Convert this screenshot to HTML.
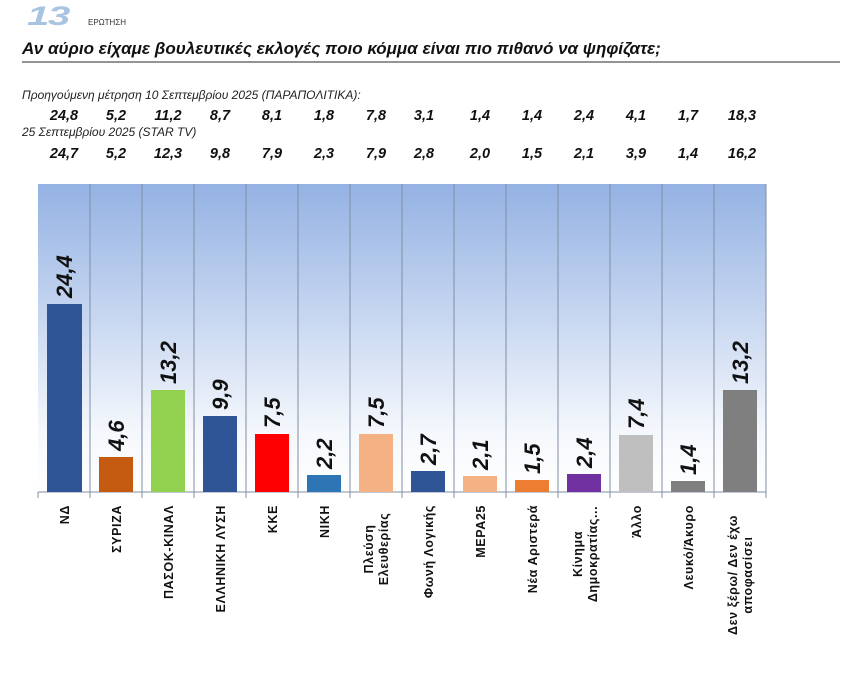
<!DOCTYPE html>
<html><head><meta charset="utf-8"><style>
body{margin:0;background:#fff;width:855px;height:697px;overflow:hidden}
svg{display:block}
text{font-family:"Liberation Sans","DejaVu Sans",sans-serif}
</style></head><body>
<svg width="855" height="697" viewBox="0 0 855 697">
<defs>
<linearGradient id="bg" x1="0" y1="0" x2="0" y2="1">
<stop offset="0" stop-color="#94b2e3"/>
<stop offset="0.45" stop-color="#c9d8f1"/>
<stop offset="0.8" stop-color="#f4f7fc"/>
<stop offset="1" stop-color="#ffffff"/>
</linearGradient>
</defs>
<text transform="translate(27,25) scale(1.55,1.05)" font-size="26" font-weight="bold" font-style="italic" fill="#a9c4e0" font-family="Liberation Serif,serif" letter-spacing="-1">13</text>
<text x="88" y="25" font-size="8" fill="#333">ΕΡΩΤΗΣΗ</text>
<text x="22" y="54" font-size="17" font-style="italic" font-weight="bold" fill="#111">Αν αύριο είχαμε βουλευτικές εκλογές ποιο κόμμα είναι πιο πιθανό να ψηφίζατε;</text>
<line x1="22" y1="62" x2="840" y2="62" stroke="#555" stroke-width="1.2"/>
<text x="22" y="99" font-size="12" font-style="italic" fill="#222">Προηγούμενη μέτρηση 10 Σεπτεμβρίου 2025 (ΠΑΡΑΠΟΛΙΤΙΚΑ):</text>
<text x="22" y="136" font-size="12" font-style="italic" fill="#222">25 Σεπτεμβρίου 2025 (STAR TV)</text>
<g font-size="14.5" font-weight="bold" font-style="italic" fill="#111" text-anchor="middle">
<text x="64" y="120">24,8</text><text x="116" y="120">5,2</text><text x="168" y="120">11,2</text><text x="220" y="120">8,7</text><text x="272" y="120">8,1</text><text x="324" y="120">1,8</text><text x="376" y="120">7,8</text><text x="424" y="120">3,1</text><text x="480" y="120">1,4</text><text x="532" y="120">1,4</text><text x="584" y="120">2,4</text><text x="636" y="120">4,1</text><text x="688" y="120">1,7</text><text x="742" y="120">18,3</text>
<text x="64" y="158">24,7</text><text x="116" y="158">5,2</text><text x="168" y="158">12,3</text><text x="220" y="158">9,8</text><text x="272" y="158">7,9</text><text x="324" y="158">2,3</text><text x="376" y="158">7,9</text><text x="424" y="158">2,8</text><text x="480" y="158">2,0</text><text x="532" y="158">1,5</text><text x="584" y="158">2,1</text><text x="636" y="158">3,9</text><text x="688" y="158">1,4</text><text x="742" y="158">16,2</text>
</g>
<rect x="38" y="184" width="728" height="308" fill="url(#bg)"/>
<g stroke="#7f8ea3" stroke-width="1">
<line x1="90" y1="184" x2="90" y2="498"/><line x1="142" y1="184" x2="142" y2="498"/><line x1="194" y1="184" x2="194" y2="498"/><line x1="246" y1="184" x2="246" y2="498"/><line x1="298" y1="184" x2="298" y2="498"/><line x1="350" y1="184" x2="350" y2="498"/><line x1="402" y1="184" x2="402" y2="498"/><line x1="454" y1="184" x2="454" y2="498"/><line x1="506" y1="184" x2="506" y2="498"/><line x1="558" y1="184" x2="558" y2="498"/><line x1="610" y1="184" x2="610" y2="498"/><line x1="662" y1="184" x2="662" y2="498"/><line x1="714" y1="184" x2="714" y2="498"/><line x1="766" y1="184" x2="766" y2="498"/><line x1="38" y1="492" x2="38" y2="498"/>
<line x1="38" y1="492" x2="766" y2="492"/>
</g>
<g>
<rect x="47" y="304" width="35" height="188" fill="#2f5597"/>
<rect x="99" y="457" width="34" height="35" fill="#c55a11"/>
<rect x="151" y="390" width="34" height="102" fill="#92d050"/>
<rect x="203" y="416" width="34" height="76" fill="#2f5597"/>
<rect x="255" y="434" width="34" height="58" fill="#ff0000"/>
<rect x="307" y="475" width="34" height="17" fill="#2e75b6"/>
<rect x="359" y="434" width="34" height="58" fill="#f4b183"/>
<rect x="411" y="471" width="34" height="21" fill="#2f5597"/>
<rect x="463" y="476" width="34" height="16" fill="#f4b183"/>
<rect x="515" y="480" width="34" height="12" fill="#ed7d31"/>
<rect x="567" y="474" width="34" height="18" fill="#7030a0"/>
<rect x="619" y="435" width="34" height="57" fill="#bfbfbf"/>
<rect x="671" y="481" width="34" height="11" fill="#7f7f7f"/>
<rect x="723" y="390" width="34" height="102" fill="#7f7f7f"/>
</g>
<g font-size="22" font-weight="bold" font-style="italic" fill="#111">
<text transform="translate(72,298) rotate(-90)">24,4</text>
<text transform="translate(124,451) rotate(-90)">4,6</text>
<text transform="translate(176,384) rotate(-90)">13,2</text>
<text transform="translate(228,410) rotate(-90)">9,9</text>
<text transform="translate(280,428) rotate(-90)">7,5</text>
<text transform="translate(332,469) rotate(-90)">2,2</text>
<text transform="translate(384,428) rotate(-90)">7,5</text>
<text transform="translate(436,465) rotate(-90)">2,7</text>
<text transform="translate(488,470) rotate(-90)">2,1</text>
<text transform="translate(540,474) rotate(-90)">1,5</text>
<text transform="translate(592,468) rotate(-90)">2,4</text>
<text transform="translate(644,429) rotate(-90)">7,4</text>
<text transform="translate(696,475) rotate(-90)">1,4</text>
<text transform="translate(748,384) rotate(-90)">13,2</text>
</g>
<g font-size="12.5" font-weight="bold" fill="#111" text-anchor="end" letter-spacing="0.6">
<text transform="translate(69,505) rotate(-90)">ΝΔ</text>
<text transform="translate(121,505) rotate(-90)">ΣΥΡΙΖΑ</text>
<text transform="translate(173,505) rotate(-90)">ΠΑΣΟΚ-ΚΙΝΑΛ</text>
<text transform="translate(225,505) rotate(-90)">ΕΛΛΗΝΙΚΗ ΛΥΣΗ</text>
<text transform="translate(277,505) rotate(-90)">ΚΚΕ</text>
<text transform="translate(329,505) rotate(-90)">ΝΙΚΗ</text>
<text transform="translate(373,549) rotate(-90)" text-anchor="middle">Πλεύση</text>
<text transform="translate(388,549) rotate(-90)" text-anchor="middle">Ελευθερίας</text>
<text transform="translate(433,505) rotate(-90)">Φωνή Λογικής</text>
<text transform="translate(485,505) rotate(-90)">ΜΕΡΑ25</text>
<text transform="translate(537,505) rotate(-90)">Νέα Αριστερά</text>
<text transform="translate(582,554) rotate(-90)" text-anchor="middle">Κίνημα</text>
<text transform="translate(597,554) rotate(-90)" text-anchor="middle">Δημοκρατίας...</text>
<text transform="translate(641,505) rotate(-90)">Άλλο</text>
<text transform="translate(693,505) rotate(-90)">Λευκό/Άκυρο</text>
<text transform="translate(737,575) rotate(-90)" text-anchor="middle">Δεν ξέρω/ Δεν έχω</text>
<text transform="translate(752,575) rotate(-90)" text-anchor="middle">αποφασίσει</text>
</g>
</svg>
</body></html>
